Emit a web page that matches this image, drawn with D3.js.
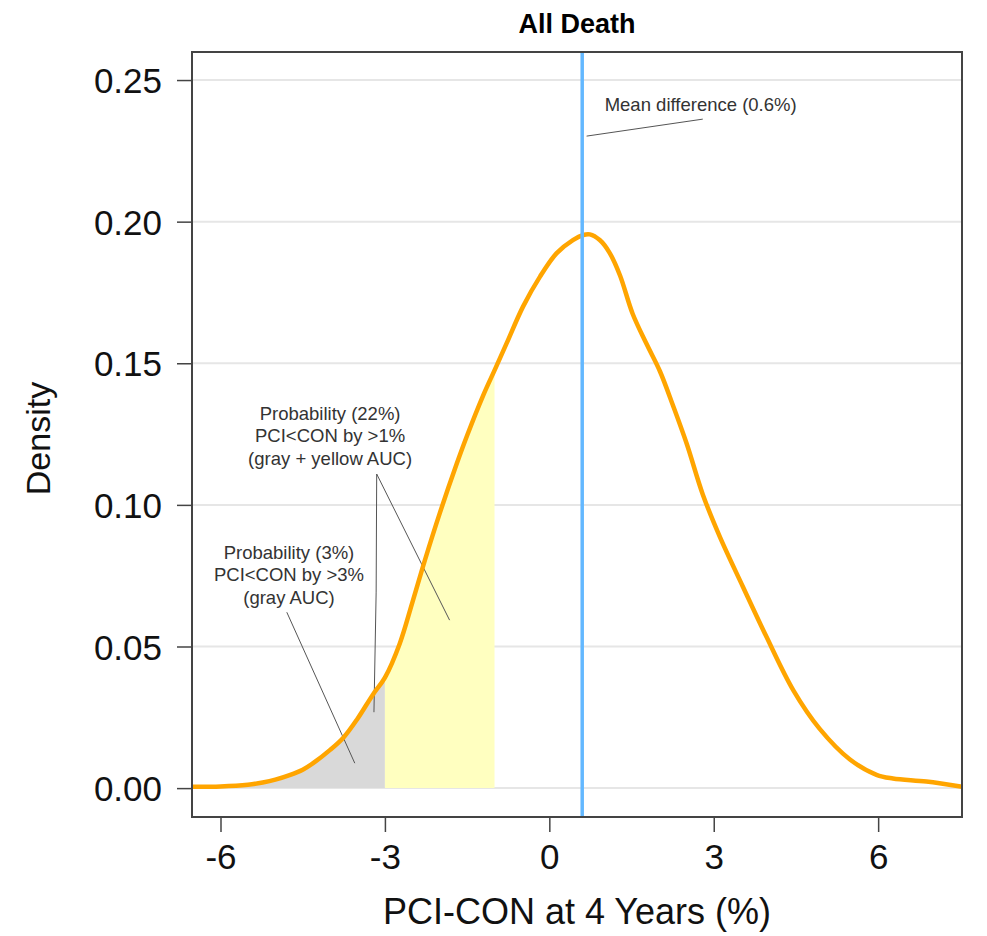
<!DOCTYPE html>
<html>
<head>
<meta charset="utf-8">
<title>All Death</title>
<script src="https://cdn.jsdelivr.net/npm/d3@7"></script>
<style>
  body {margin: 0; background: #fff;}
  text {font-family: "Liberation Sans", Arial, Helvetica, sans-serif;}
</style>
</head>
<body>
<script>
// density of PCI-CON difference
const diffX = [-6.52, -6.0, -5.5, -5.23, -5.0, -4.74, -4.5, -4.31, -4.0, -3.75, -3.5, -3.22, -3.0,
  -2.73, -2.5, -2.27, -2.0, -1.69, -1.5, -1.21, -1.0, -0.78, -0.48, -0.17, 0.13, 0.43, 0.62,
  0.74, 0.92, 1.10, 1.29, 1.52, 1.78, 2.02, 2.26, 2.51, 2.80, 3.11, 3.53, 3.96, 4.45, 4.93,
  5.48, 5.97, 6.27, 6.88, 7.53]
const density = [0.0005, 0.0006, 0.0012, 0.002, 0.003, 0.0046, 0.0065, 0.0088, 0.0135, 0.018, 0.0245, 0.033, 0.039,
  0.051, 0.0655, 0.0805, 0.097, 0.1145, 0.1245, 0.1385, 0.1475, 0.157, 0.170, 0.1806, 0.1888, 0.1935, 0.1953,
  0.1955, 0.1935, 0.189, 0.181, 0.1675, 0.1566, 0.1471, 0.1349, 0.1214, 0.1037, 0.0888, 0.0712, 0.0535, 0.0346, 0.021,
  0.0102, 0.0047, 0.0034, 0.0023, 0.0005]

const xTicks = [-6, -3, 0, 3, 6]
const yTicks = [0, 0.05, 0.10, 0.15, 0.20, 0.25]

const meanDiff = 0.6
const grayCut = -3
const yellowCut = -1

const meanLabel = ['Mean difference (0.6%)']
const label22 = ['Probability (22%)', 'PCI<CON by >1%', '(gray + yellow AUC)']
const label3 = ['Probability (3%)', 'PCI<CON by >3%', '(gray AUC)']

const data = diffX.map((x, i) => ({x: x, y: density[i]}))

const svgWidth = 987
const svgHeight = 936
const margin = {top: 52, right: 25, bottom: 119, left: 192}
const width = svgWidth - margin.left - margin.right
const height = svgHeight - margin.top - margin.bottom

const svg = d3.select('body').append('svg')
  .attr('width', svgWidth).attr('height', svgHeight)
const g = svg.append('g')
  .attr('transform', `translate(${margin.left},${margin.top})`)

const x = d3.scaleLinear().domain([-6.52, 7.53]).range([0, width])
const y = d3.scaleLinear().domain([-0.0102, 0.2599]).range([height, 0])

// horizontal grid
g.append('g').selectAll('line').data(yTicks).enter().append('line')
  .attr('x1', 0).attr('x2', width)
  .attr('y1', d => y(d)).attr('y2', d => y(d))
  .attr('stroke', '#e6e6e6').attr('stroke-width', 2)

// shaded AUC
const area = d3.area().curve(d3.curveCatmullRom)
  .x(d => x(d.x)).y0(y(0)).y1(d => y(d.y))
g.append('path').datum(data.filter(d => d.x <= grayCut))
  .attr('d', area).attr('fill', '#d9d9d9')
g.append('path').datum(data.filter(d => d.x >= grayCut && d.x <= yellowCut))
  .attr('d', area).attr('fill', '#ffffc0')

// annotation leaders
const leader = d3.line().x(d => x(d[0])).y(d => y(d[1]))
const leaders = [
  [[0.68, 0.2302], [2.80, 0.2362]],
  [[-3.15, 0.1109], [-1.82, 0.0593]],
  [[-3.15, 0.1109], [-3.16, 0.0692], [-3.20, 0.0268]],
  [[-4.79, 0.0621], [-3.55, 0.0088]]
]
g.append('g').selectAll('path').data(leaders).enter().append('path')
  .attr('d', leader).attr('fill', 'none')
  .attr('stroke', '#555').attr('stroke-width', 1)

// density curve
const line = d3.line().curve(d3.curveCatmullRom)
  .x(d => x(d.x)).y(d => y(d.y))
g.append('path').datum(data)
  .attr('d', line).attr('fill', 'none')
  .attr('stroke', '#ffa500').attr('stroke-width', 4.5)

// mean difference
g.append('line')
  .attr('x1', x(meanDiff)).attr('x2', x(meanDiff))
  .attr('y1', 0).attr('y2', height)
  .attr('stroke', '#63b8ff').attr('stroke-width', 3.5)

// annotation text
const note = (lines, cx, cy, anchor) => {
  g.append('text')
    .attr('text-anchor', anchor)
    .attr('font-size', 18.5).attr('fill', '#333')
    .selectAll('tspan').data(lines).enter().append('tspan')
    .attr('x', x(cx)).attr('y', (d, i) => y(cy) + i * 22.5)
    .text(d => d)
}
note(meanLabel, 1.01, 0.2392, 'start')
note(label22, -4.0, 0.1300, 'middle')
note(label3, -4.75, 0.0810, 'middle')

// panel border
g.append('rect').attr('width', width).attr('height', height)
  .attr('fill', 'none').attr('stroke', '#444').attr('stroke-width', 2)

// axes
const xAxis = g.append('g')
  .attr('transform', `translate(0,${height})`)
  .call(d3.axisBottom(x).tickValues(xTicks).tickSize(15).tickPadding(12).tickFormat(d => String(d)))
const yAxis = g.append('g')
  .call(d3.axisLeft(y).tickValues(yTicks).tickSize(15).tickPadding(15).tickFormat(d3.format('.2f')))
;[xAxis, yAxis].forEach(a => {
  a.select('.domain').remove()
  a.selectAll('line').attr('stroke', '#444').attr('stroke-width', 1.5)
  a.selectAll('text').attr('font-size', 35).attr('fill', '#111')
    .attr('font-family', '"Liberation Sans", Arial, sans-serif')
})
yAxis.selectAll('text').attr('dy', '0.36em')
xAxis.selectAll('text').attr('dy', '0.72em')

// titles
svg.append('text')
  .attr('x', margin.left + width / 2).attr('y', 33)
  .attr('text-anchor', 'middle').attr('font-size', 27).attr('font-weight', 'bold')
  .text('All Death')
svg.append('text')
  .attr('x', margin.left + width / 2).attr('y', 924)
  .attr('text-anchor', 'middle').attr('font-size', 36).attr('fill', '#111')
  .text('PCI-CON at 4 Years (%)')
svg.append('text')
  .attr('transform', `translate(50,${margin.top + height / 2 + 4}) rotate(-90)`)
  .attr('text-anchor', 'middle').attr('font-size', 34).attr('fill', '#111')
  .text('Density')
</script>
</body>
</html>
